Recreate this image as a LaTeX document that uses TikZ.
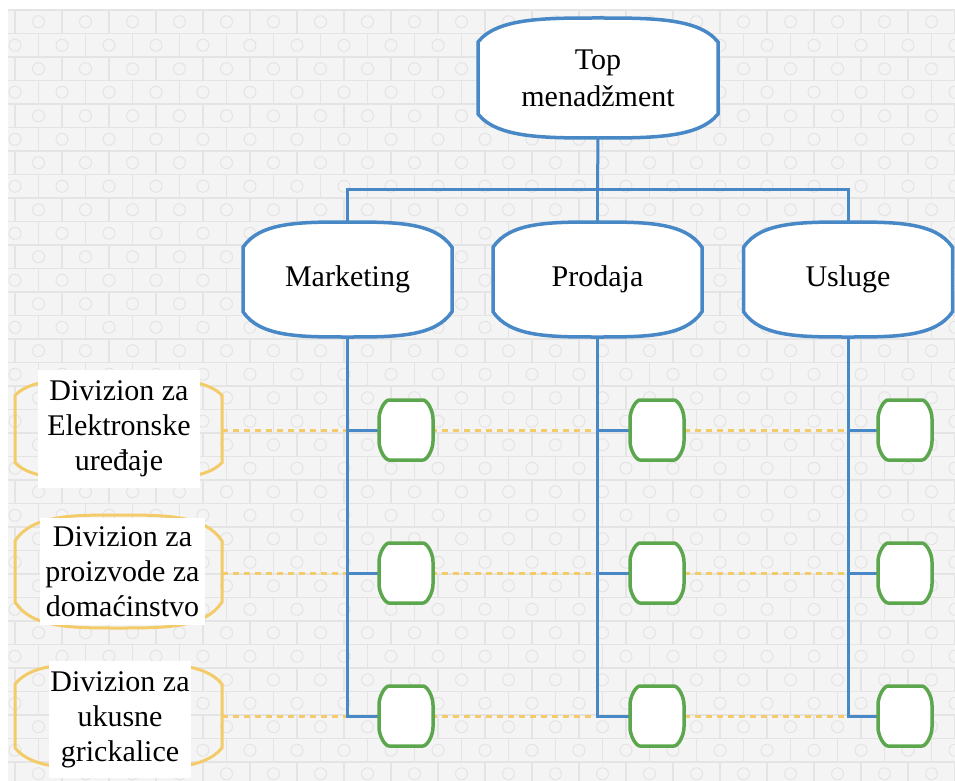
\documentclass[tikz,border=0pt]{standalone}
\usepackage{fontspec}
\setmainfont{Liberation Serif}
\newfontfamily\timesfont{Liberation Serif}
\usetikzlibrary{calc}
\pgfdeclarelayer{bglayer}
\pgfdeclarelayer{midlayer}
\pgfsetlayers{bglayer,midlayer,main}
\definecolor{blueln}{RGB}{72,136,198}
\definecolor{greenln}{RGB}{92,166,78}
\definecolor{orangeln}{RGB}{243,203,105}
\definecolor{bgfill}{RGB}{244,244,244}
\definecolor{gridln}{RGB}{228,228,228}

% outline with bulged top and bottom, drawn round a named node
\newcommand\bulgeshape[3]{%
 \draw[#2] ($(#1.north west)!#3!(#1.south west)$)
   .. controls ($(#1.north west)!0.08!(#1.north east)$) and ($(#1.north west)!0.275!(#1.north east)$) .. (#1.north)
   .. controls ($(#1.north west)!0.725!(#1.north east)$) and ($(#1.north west)!0.92!(#1.north east)$) .. ($(#1.north east)!#3!(#1.south east)$)
   -- ($(#1.south east)!#3!(#1.north east)$)
   .. controls ($(#1.south west)!0.92!(#1.south east)$) and ($(#1.south west)!0.725!(#1.south east)$) .. (#1.south)
   .. controls ($(#1.south west)!0.275!(#1.south east)$) and ($(#1.south west)!0.08!(#1.south east)$) .. ($(#1.south west)!#3!(#1.north west)$)
   -- cycle;}
% small rounded octagon round a named node
\newcommand\greenshape[1]{%
 \draw[greenbox] ($(#1)+(-17,-30)$) -- ($(#1)+(17,-30)$)
   .. controls ($(#1)+(21,-30)$) and ($(#1)+(27,-20)$) .. ($(#1)+(27,-11)$)
   -- ($(#1)+(27,11)$)
   .. controls ($(#1)+(27,20)$) and ($(#1)+(21,30)$) .. ($(#1)+(17,30)$)
   -- ($(#1)+(-17,30)$)
   .. controls ($(#1)+(-21,30)$) and ($(#1)+(-27,20)$) .. ($(#1)+(-27,11)$)
   -- ($(#1)+(-27,-11)$)
   .. controls ($(#1)+(-27,-20)$) and ($(#1)+(-21,-30)$) .. cycle;}

\tikzset{
 bluebox/.style={minimum width=209pt, minimum height=115pt, inner sep=0pt, outer sep=0pt, align=center,
   font=\timesfont\fontsize{30}{37}\selectfont},
 blueoutline/.style={draw=blueln, line width=3.5pt, fill=white},
 greenbox/.style={draw=greenln, line width=3.5pt, fill=white, line join=round},
 gnode/.style={minimum width=54pt, minimum height=60pt, inner sep=0pt, outer sep=0pt},
 onode/.style={minimum width=207pt, inner sep=0pt, outer sep=0pt},
 orangeoutline/.style={draw=orangeln, line width=3pt},
 wbox/.style={fill=white, inner sep=0pt, outer sep=0pt, align=center, font=\timesfont\fontsize{30}{35}\selectfont},
 conn/.style={draw=blueln, line width=3pt},
 dashline/.style={draw=orangeln, line width=3pt, dash pattern=on 6pt off 5pt}
}

\begin{document}
\begin{tikzpicture}[x=1pt, y=-1pt]
\useasboundingbox (0,0) rectangle (955,781);

% ---------- nodes ----------
\node[bluebox, minimum width=240pt, minimum height=120pt] (top) at (598,78) {Top\\menadžment};
\node[bluebox] (mkt) at (347.5,279.5) {Marketing};
\node[bluebox] (prod) at (597.5,279.5) {Prodaja};
\node[bluebox] (usl) at (848,279.5) {Usluge};
\coordinate (hub) at (597.5,189);

\foreach \c/\x in {1/406,2/657,3/905}{
  \node[gnode] (g1\c) at (\x,430) {};
  \node[gnode] (g2\c) at (\x,573) {};
  \node[gnode] (g3\c) at (\x,716) {};
}

\node[onode, minimum height=102pt] (o1) at (118.5,429) {};
\node[onode, minimum height=113pt] (o2) at (118.5,571.5) {};
\node[onode, minimum height=106pt] (o3) at (118.5,716) {};

\node[wbox, minimum width=162pt, minimum height=118pt] (t1) at (119,429) {Divizion za\\Elektronske\\uređaje};
\node[wbox, minimum width=165pt, minimum height=107pt] (t2) at (122.5,571.5) {Divizion za\\proizvode za\\domaćinstvo};
\node[wbox, minimum width=142pt, minimum height=117pt] (t3) at (120,719.5) {Divizion za\\ukusne\\grickalice};

% ---------- background ----------
\begin{pgfonlayer}{bglayer}
\fill[white] (0,0) rectangle (955,781);
\fill[bgfill] (8,10) rectangle (955,781);
\begin{scope}
\clip (8,10) rectangle (955,781);
\foreach \r in {0,...,32}{
  \pgfmathsetmacro\yy{10+23.5*\r}
  \pgfmathsetmacro\off{15+23.5*mod(\r,2)}
  \draw[gridln, line width=1.2pt] (8,\yy) -- (955,\yy);
  \foreach \c in {-1,...,20}{
    \draw[gridln, line width=1.2pt] ({\off+47*\c},\yy) -- ++(0,23.5);
    \draw[gridln, line width=1pt] ({\off+47*\c+23.5},{\yy+11.75}) circle[radius=6];
  }
}
\end{scope}
\end{pgfonlayer}

% ---------- connectors and shapes ----------
\begin{pgfonlayer}{midlayer}
\foreach \i in {1,2,3}{
  \draw[dashline] (o\i.east |- g\i1.west) -- (g\i1.west -| usl.south);
}
\draw[conn] (top.south) -- (hub);
\draw[conn] (mkt.north) -- (mkt.north |- hub) -- (usl.north |- hub) -- (usl.north);
\draw[conn] (prod.north) -- (hub);
\foreach \n/\c in {mkt/1,prod/2,usl/3}{
  \draw[conn] (\n.south) |- (g3\c.west);
  \draw[conn] (\n.south |- g1\c.west) -- (g1\c.west);
  \draw[conn] (\n.south |- g2\c.west) -- (g2\c.west);
}
\bulgeshape{top}{blueoutline}{0.2}
\bulgeshape{mkt}{blueoutline}{0.22}
\bulgeshape{prod}{blueoutline}{0.22}
\bulgeshape{usl}{blueoutline}{0.22}
\foreach \r in {1,2,3}{
  \foreach \c in {1,2,3}{
    \greenshape{g\r\c}
  }
}
\bulgeshape{o1}{orangeoutline}{0.17}
\bulgeshape{o2}{orangeoutline}{0.23}
\bulgeshape{o3}{orangeoutline}{0.2}
\end{pgfonlayer}
\end{tikzpicture}
\end{document}
